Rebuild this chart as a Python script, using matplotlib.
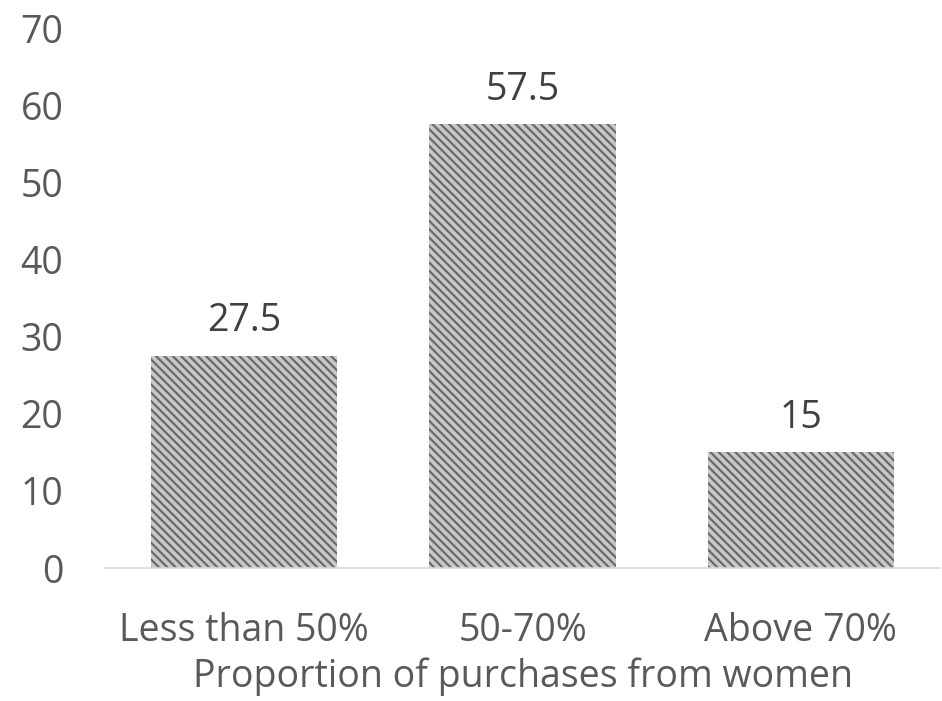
import matplotlib
matplotlib.use("Agg")
import matplotlib.pyplot as plt

categories = ["Less than 50%", "50-70%", "Above 70%"]
values = [27.5, 57.5, 15]
value_labels = ["27.5", "57.5", "15"]
yticks = [0, 10, 20, 30, 40, 50, 60, 70]

plt.rcParams['font.family'] = ['Open Sans', 'DejaVu Sans']
plt.rcParams['hatch.linewidth'] = 1.6
txt = '#595959'
fs = 27

fig = plt.figure(figsize=(9.42, 7.01), dpi=100)
ax = fig.add_axes([0.1115, 0.1897, 0.8865, 0.7703])
x = list(range(len(categories)))
bars = ax.bar(x, values, width=0.67, color='#c8c8c8', edgecolor='#6a6a6a',
              hatch='\\\\\\\\', linewidth=0)
for xi, v, lab in zip(x, values, value_labels):
    ax.annotate(lab, (xi, v), xytext=(0, 25), textcoords='offset points',
                ha='center', va='center', fontsize=fs, color='#404040')

ax.set_xlim(-0.5, 2.5)
ax.set_ylim(0, 70)
ax.set_yticks(yticks)
ax.set_xticks(x)
ax.set_xticklabels(categories)
ax.tick_params(axis='both', length=0, labelsize=fs, colors=txt)
ax.tick_params(axis='x', pad=32)
ax.tick_params(axis='y', pad=30)
for s in ['top', 'right', 'left']:
    ax.spines[s].set_visible(False)
ax.spines['bottom'].set_color('#d9d9d9')
ax.spines['bottom'].set_linewidth(1.2)
ax.set_xlabel("Proportion of purchases from women", fontsize=fs, color=txt, labelpad=5)

fig.savefig("out.png", dpi=100)
